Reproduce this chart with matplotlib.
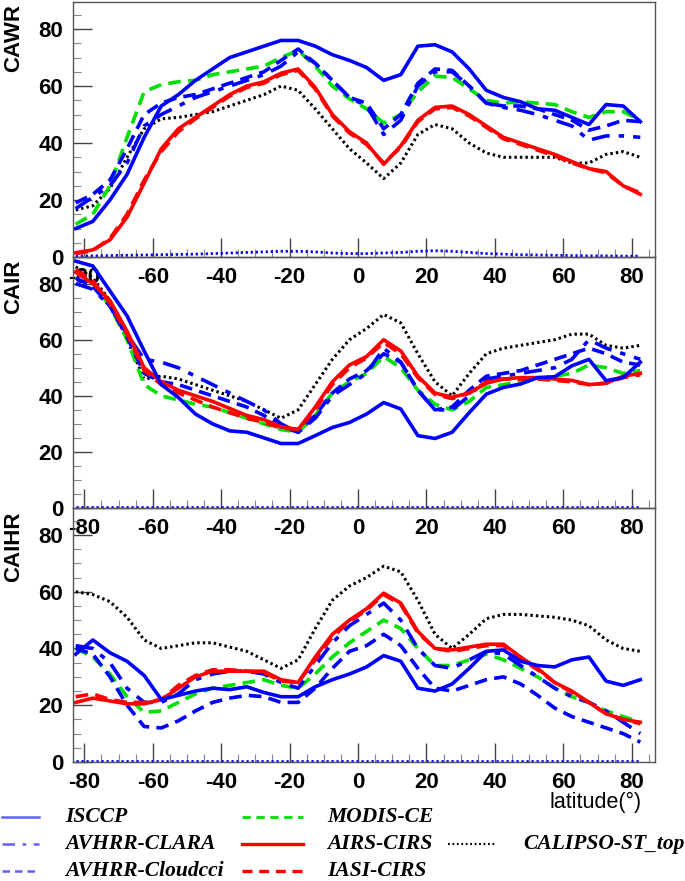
import matplotlib
matplotlib.use('Agg')
import matplotlib.pyplot as plt
from matplotlib.lines import Line2D
from matplotlib.ticker import MultipleLocator

lat = [-82.5, -77.5, -72.5, -67.5, -62.5, -57.5, -52.5, -47.5, -42.5, -37.5,
       -32.5, -27.5, -22.5, -17.5, -12.5, -7.5, -2.5, 2.5, 7.5, 12.5,
       17.5, 22.5, 27.5, 32.5, 37.5, 42.5, 47.5, 52.5, 57.5, 62.5,
       67.5, 72.5, 77.5, 82.5]

# ---------------- CAWR ----------------
cawr_isccp = [10, 12.5, 20, 29, 42, 53, 57, 62, 66, 70, 72, 74, 76, 76, 74, 71, 69, 66.5, 62, 64,
              74, 74.5, 72, 66, 58.5, 56, 54.5, 52, 51.5, 49, 46.5, 53.5, 53, 47.5]
cawr_clara = [17, 21, 25, 33, 46, 50, 53, 56, 58, 60, 62, 64, 67, 72, 68, 62, 56, 53, 43, 48,
              60, 65, 65, 60, 54, 52.5, 51.5, 50, 48, 46, 41, 42.5, 42.5, 42]
cawr_cloudcci = [19, 22, 27, 38, 50, 54, 56, 57, 59, 61, 63, 65, 69, 73, 68, 62, 56, 54, 45, 50,
                 61, 66, 65.5, 60, 54, 53, 53, 52, 50, 48, 44.5, 46, 48, 47.5]
cawr_modis = [11.5, 15, 25, 42, 58, 60.5, 61.5, 62, 64, 65, 66, 67, 70, 72.5, 67, 60, 55.5, 52, 47, 50,
              58, 63.5, 63, 59, 55, 54, 54.5, 54, 53.5, 51, 49, 51, 51, 48]
cawr_airs = [1.5, 2.5, 6, 14, 26, 38, 45, 49, 53, 57, 60, 61.5, 64.5, 66, 59.5, 50, 44, 40, 32.5, 39,
             48, 52.5, 53, 50, 46, 42, 40, 38, 36, 33.5, 31, 30, 25, 22]
cawr_iasi = [1.2, 2.2, 6.5, 15, 27, 37, 44, 48.5, 52.5, 56.5, 59.5, 61, 64, 65.5, 59, 49.5, 43.5, 39.5, 33, 38.5,
             47.5, 52, 52.5, 49.5, 45.5, 41.5, 39.5, 37.5, 35.5, 33, 31, 29.5, 25, 22.5]
cawr_calipso = [16.5, 18, 24, 35, 45, 48.5, 49, 50, 51, 53, 55, 57, 60, 58.5, 52, 45, 38, 33, 27.5, 33,
                43, 46.5, 45, 40, 36.5, 35, 35, 35, 35, 33, 33, 36, 37, 35]
cawr_other = [0.3, 0.4, 0.5, 0.6, 0.7, 0.8, 0.9, 1.0, 1.2, 1.4, 1.6, 1.8, 2.0, 2.0, 1.8, 1.4, 1.2, 1.2, 1.4, 1.6,
              2.0, 2.2, 2.0, 1.6, 1.2, 1.0, 0.8, 0.7, 0.6, 0.5, 0.4, 0.4, 0.3, 0.3]

# ---------------- CAIR ----------------
cair_isccp = [88, 86.3, 77.4, 68.5, 56, 44, 39.4, 33.5, 30, 27.5, 27, 25, 23, 23, 25.8, 28.7, 30.5, 33.5, 37.6, 35.3,
              25.8, 24.8, 27, 34, 40.6, 43, 44.2, 46.5, 46.8, 50.7, 53, 45.4, 46.5, 52]
cair_clara = [80, 78, 72, 62, 53, 52, 50, 47, 44, 41, 38, 35, 30, 27, 32, 40, 44, 48, 57, 52,
              42, 35, 35, 40, 46, 47, 48, 49, 50, 53, 60, 57, 55, 53]
cair_cloudcci = [82, 79, 72, 61, 48, 45, 44, 42, 40, 38, 36, 33, 29, 27, 33, 41, 46, 49, 55, 52,
                 42, 35, 36, 42, 47, 48, 49, 51, 53, 55, 57, 55, 52, 51]
cair_modis = [85, 80, 72, 60, 44, 40, 38.5, 37, 36, 34, 32, 30, 28, 27, 33, 41, 45, 48, 54, 50,
              42, 37, 35, 38, 43, 44, 45, 46, 47, 48, 51, 50, 48, 49]
cair_airs = [84, 80, 74, 63, 50, 45, 42, 40, 38, 35.5, 33, 31.5, 29, 28, 36, 45, 51, 54, 60, 56,
             47, 41, 39.5, 41, 44.5, 46, 46.5, 46.5, 46, 45.5, 44, 44.5, 47, 48]
cair_iasi = [85, 81, 73, 62, 49, 44, 41, 38.5, 36, 34, 32, 30.5, 28.5, 28, 35, 44, 50, 53.5, 59, 55,
             46.5, 40.5, 39, 41, 45, 46, 46, 46, 45.5, 45, 44, 44.5, 46.5, 47.5]
cair_calipso = [86, 82, 74, 60, 46, 47, 46, 44, 42, 40, 38, 35, 32, 35, 44, 53, 60, 64, 69, 66,
                55, 45, 40, 48, 55, 57, 58, 59, 60, 62, 62, 58, 57, 58]
cair_other = [0.3, 0.3, 0.3, 0.3, 0.3, 0.3, 0.3, 0.3, 0.3, 0.3, 0.3, 0.3, 0.3, 0.3, 0.3, 0.3, 0.3, 0.3, 0.3, 0.3,
              0.3, 0.3, 0.3, 0.3, 0.3, 0.3, 0.3, 0.3, 0.3, 0.3, 0.3, 0.3, 0.3, 0.3]

# ---------------- CAIHR ----------------
caihr_isccp = [38, 43, 38.5, 35.5, 30.5, 22, 23.5, 25, 26, 25.5, 26.5, 24.5, 23, 23, 26.5, 29, 31, 33.5, 37.5, 35.5,
               26, 25, 27.5, 33, 39, 39.5, 35.5, 34, 33.5, 36, 37, 28.5, 27, 29]
caihr_clara = [41, 40, 35, 26, 21, 21, 24, 29, 31, 32, 32, 31, 28, 26, 34, 42, 48, 52, 56, 50,
               40, 34, 33, 36, 39, 38, 34, 30, 26, 23, 21, 18, 14, 10]
caihr_cloudcci = [40, 38, 30, 20, 12.5, 12, 14.5, 18, 21, 22.5, 23.5, 23, 21, 21, 26, 33, 39, 41, 45, 41,
                  33, 26, 25, 27, 29, 30, 27.5, 23.5, 19, 16, 14, 12, 10, 7]
caihr_modis = [40, 37, 31, 23, 17.5, 18, 21, 24, 26, 27, 28, 29, 27, 26, 31, 37, 42, 46, 50, 47,
               40, 34, 34, 36, 38, 36, 33, 30, 26, 23, 21, 18, 16, 14]
caihr_airs = [21, 22.5, 21.5, 20.5, 20.5, 22, 26, 30, 32, 32, 32, 32, 29, 28, 37, 45, 50, 54, 59.5, 56,
              46, 40, 39.5, 40.5, 41.5, 41.5, 37, 33, 28, 25, 21, 17, 15, 14]
caihr_iasi = [23, 24, 22, 21, 21, 22, 27, 30.5, 32.5, 32.5, 32, 31.5, 28.5, 28, 36, 44, 49.5, 53.5, 59, 55.5,
              45.5, 40, 39, 40, 41, 41, 36.5, 32.5, 28, 24.5, 21, 17, 15, 13.5]
caihr_calipso = [60, 59, 56.5, 51, 43, 40, 41, 42, 42, 40.5, 39, 36, 33, 36, 47, 57, 62, 65, 69, 67,
                 57, 45, 40, 45, 50.5, 52, 52, 51.5, 51, 50, 48, 43, 40, 39]
caihr_other = cair_other

panel_names = ["CAWR", "CAIR", "CAIHR"]
series_names = ["ISCCP", "AVHRR-CLARA", "AVHRR-Cloudcci", "MODIS-CE", "AIRS-CIRS", "IASI-CIRS", "CALIPSO-ST_top"]
x_ticks = [-80, -60, -40, -20, 0, 20, 40, 60, 80]
y_ticks = [0, 20, 40, 60, 80]

panels = [
    dict(isccp=cawr_isccp, clara=cawr_clara, cloudcci=cawr_cloudcci, modis=cawr_modis,
         airs=cawr_airs, iasi=cawr_iasi, calipso=cawr_calipso, other=cawr_other),
    dict(isccp=cair_isccp, clara=cair_clara, cloudcci=cair_cloudcci, modis=cair_modis,
         airs=cair_airs, iasi=cair_iasi, calipso=cair_calipso, other=cair_other),
    dict(isccp=caihr_isccp, clara=caihr_clara, cloudcci=caihr_cloudcci, modis=caihr_modis,
         airs=caihr_airs, iasi=caihr_iasi, calipso=caihr_calipso, other=caihr_other),
]

BLUE = '#0000ff'
GREEN = '#00e000'
RED = '#ff0000'
LW = 2.6
styles = {
    'isccp': dict(color=BLUE, ls='-', lw=LW),
    'clara': dict(color=BLUE, ls=(0, (5, 2.5, 1.5, 2.5)), lw=LW),
    'cloudcci': dict(color=BLUE, ls=(0, (3.5, 2)), lw=LW),
    'modis': dict(color=GREEN, ls=(0, (3.5, 2)), lw=LW),
    'airs': dict(color=RED, ls='-', lw=LW),
    'iasi': dict(color=RED, ls=(0, (3.5, 2)), lw=LW),
    'calipso': dict(color='black', ls=(0, (0.8, 1.0)), lw=2.2),
    'other': dict(color=BLUE, ls=(0, (0.8, 1.0)), lw=2.0),
}
draw_order = ['other', 'calipso', 'modis', 'clara', 'cloudcci', 'iasi', 'airs', 'isccp']

W, H = 685, 881
fig = plt.figure(figsize=(W / 100, H / 100), dpi=100)
fig.patch.set_facecolor('white')

TICKFONT = dict(family=['Liberation Sans', 'DejaVu Sans'], weight='bold', size=16)

# panel pixel extents (top, bottom)
extents = [(2, 257), (257, 508), (508, 762)]
left_px, right_px = 73, 655
axes = []
for i, (t, b) in enumerate(extents):
    ax = fig.add_axes([left_px / W, 1 - b / H, (right_px - left_px) / W, (b - t) / H])
    ax.set_facecolor('none')
    axes.append(ax)

for i, ax in enumerate(axes):
    d = panels[i]
    for key in draw_order:
        ax.plot(lat, d[key], **styles[key])
    ax.set_xlim(-83.3, 86.8)
    ax.set_ylim(0, 89.5)
    ax.set_xticks(x_ticks)
    ax.set_yticks(y_ticks)
    ax.xaxis.set_minor_locator(MultipleLocator(5))
    ax.yaxis.set_minor_locator(MultipleLocator(5))
    ax.tick_params(axis='both', which='major', direction='in', length=14, width=1, color='#444444')
    ax.tick_params(axis='both', which='minor', direction='in', length=6, width=0.8, color='#888888')
    ax.tick_params(axis='x', which='major', pad=7)
    ax.tick_params(axis='y', which='major', pad=7)
    ax.set_xticklabels([str(v) for v in x_ticks], fontdict=TICKFONT)
    ax.set_yticklabels([str(v) for v in y_ticks], fontdict=TICKFONT)
    for sp in ax.spines.values():
        sp.set_color('#555555')
        sp.set_linewidth(1.0)

# panel titles (y labels)
ylabel_pos = [38, 287, 547]
for name, yp in zip(panel_names, ylabel_pos):
    fig.text(14 / W, 1 - yp / H, name, rotation=90, ha='center', va='center',
             fontdict=TICKFONT)

fig.text(596 / W, 1 - 802 / H, "latitude(°)", ha='center', va='center',
         family=['Liberation Sans', 'DejaVu Sans'], size=15.5)

# legend (manual layout)
LEGFONT = dict(family=['Liberation Serif', 'DejaVu Serif'], style='italic', weight='bold', size=15.5)
leg_items = [
    ('isccp', series_names[0], 0, 0),
    ('clara', series_names[1], 0, 1),
    ('cloudcci', series_names[2], 0, 2),
    ('modis', series_names[3], 1, 0),
    ('airs', series_names[4], 1, 1),
    ('iasi', series_names[5], 1, 2),
    ('calipso', series_names[6], 2, 1),
]
leg_styles = {
    'isccp': dict(color='#6060ff', ls='-', lw=1.8),
    'clara': dict(color='#6060ff', ls=(0, (5, 3, 1.5, 3)), lw=1.8),
    'cloudcci': dict(color='#6060ff', ls=(0, (3, 2)), lw=1.8),
    'modis': dict(color=GREEN, ls=(0, (3, 2)), lw=2.0),
    'airs': dict(color=RED, ls='-', lw=2.4),
    'iasi': dict(color=RED, ls=(0, (3, 2)), lw=2.4),
    'calipso': dict(color='black', ls=(0, (0.8, 1.2)), lw=1.6),
}
col_line = [(2, 39), (242, 303), (448, 495)]
col_text = [65, 327, 523]
row_y = [817, 844, 871]
for key, label, c, r in leg_items:
    y = 1 - row_y[r] / H
    ln = Line2D([col_line[c][0] / W, col_line[c][1] / W], [y, y], transform=fig.transFigure,
                **leg_styles[key])
    fig.add_artist(ln)
    fig.text(col_text[c] / W, y, label, ha='left', va='center', fontdict=LEGFONT)

fig.savefig('out.png', dpi=100, facecolor='white')
